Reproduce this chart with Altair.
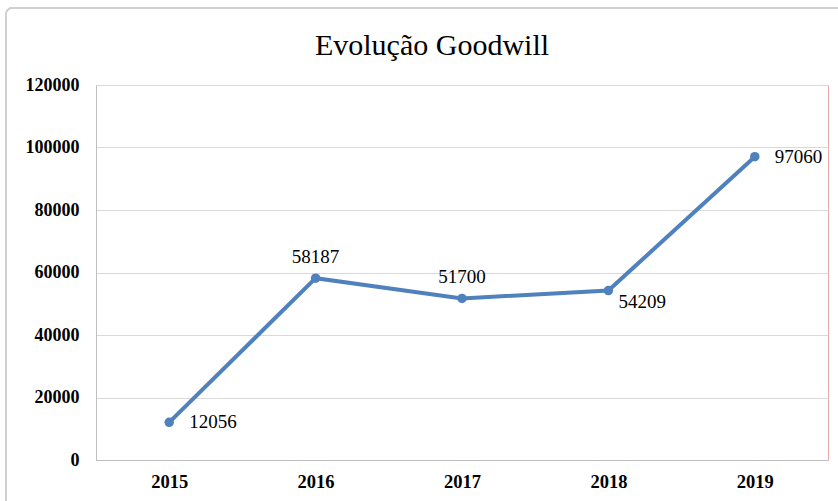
import altair as alt
import pandas as pd

years = ["2015", "2016", "2017", "2018", "2019"]
values = [12056, 58187, 51700, 54209, 97060]
label_pos = ["right", "above", "above", "below", "right"]

df = pd.DataFrame({"year": years, "value": values, "pos": label_pos})

FONT = "Liberation Serif"
BLUE = "#4F81BD"

x = alt.X("year:N", scale=alt.Scale(type="point", padding=0.5),
          axis=alt.Axis(title=None, labelAngle=0, ticks=False, domain=True,
                        domainColor="#BFBFBF", labelPadding=12, grid=False,
                        labelFontSize=18.5))
y = alt.Y("value:Q", scale=alt.Scale(domain=[0, 120000]),
          axis=alt.Axis(title=None, values=[0, 20000, 40000, 60000, 80000, 100000, 120000],
                        ticks=False, domain=True, domainColor="#BFBFBF",
                        labelPadding=17, gridColor="#D9D9D9", format="d",
                        labelFontSize=18))

base = alt.Chart(df).encode(x=x, y=y)

frame = alt.Chart(df).mark_rect(
    fill=None, stroke="#D0D0D0", strokeWidth=1.5, cornerRadius=6, clip=False
).encode(x=alt.value(-90), x2=alt.value(760), y=alt.value(-77), y2=alt.value(430))

line = base.mark_line(color=BLUE, strokeWidth=4)
pts = base.mark_point(filled=True, color=BLUE, size=90, opacity=1)

txt_right = base.transform_filter(alt.datum.pos == "right").mark_text(
    align="left", dx=20, dy=0, font=FONT, fontSize=19, color="black").encode(text="value:Q")
txt_above = base.transform_filter(alt.datum.pos == "above").mark_text(
    align="center", dx=0, dy=-21, font=FONT, fontSize=19, color="black").encode(text="value:Q")
txt_below = base.transform_filter(alt.datum.pos == "below").mark_text(
    align="left", dx=10, dy=11, font=FONT, fontSize=19, color="black").encode(text="value:Q")

chart = alt.layer(frame, line, pts, txt_right, txt_above, txt_below).properties(
    width=732, height=375,
    background="white",
    title=alt.TitleParams("Evolução Goodwill", font=FONT, fontSize=30, fontWeight="normal",
                          color="black", anchor="middle", dx=-30, offset=-54),
    autosize=alt.AutoSizeParams(type="none"),
    padding={"left": 96, "top": 85, "right": 10, "bottom": 41},
).configure_view(
    stroke="#E8A6A6", strokeWidth=1
).configure_axis(
    labelFont=FONT, labelFontWeight="bold", labelColor="black"
)

chart.save("out.html", embed_options={"renderer": "svg", "actions": False})
